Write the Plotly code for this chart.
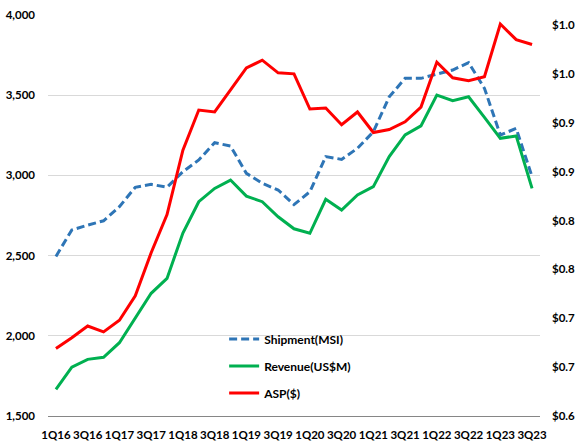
import plotly.graph_objects as go

quarters = ["1Q16","2Q16","3Q16","4Q16","1Q17","2Q17","3Q17","4Q17",
            "1Q18","2Q18","3Q18","4Q18","1Q19","2Q19","3Q19","4Q19",
            "1Q20","2Q20","3Q20","4Q20","1Q21","2Q21","3Q21","4Q21",
            "1Q22","2Q22","3Q22","4Q22","1Q23","2Q23","3Q23"]

shipment = [2495, 2660, 2690, 2717, 2805, 2926, 2944, 2926,
            3023, 3096, 3204, 3183, 3013, 2951, 2909, 2818,
            2898, 3117, 3100, 3169, 3272, 3490, 3605, 3605,
            3632, 3657, 3703, 3543, 3252, 3293, 2992]

revenue = [1666, 1804, 1853, 1866, 1957, 2109, 2265, 2358,
           2641, 2836, 2919, 2971, 2871, 2836, 2742, 2667,
           2639, 2851, 2784, 2878, 2930, 3117, 3252, 3309,
           3501, 3466, 3490, 3362, 3231, 3246, 2919]

asp = [0.669, 0.680, 0.692, 0.686, 0.698, 0.723, 0.767, 0.806,
       0.872, 0.913, 0.911, 0.934, 0.956, 0.964, 0.951, 0.950,
       0.914, 0.915, 0.898, 0.911, 0.890, 0.893, 0.901, 0.916,
       0.962, 0.946, 0.943, 0.947, 1.001, 0.985, 0.980]

left_ticks = [1500, 2000, 2500, 3000, 3500, 4000]
left_ticktext = ["1,500", "2,000", "2,500", "3,000", "3,500", "4,000"]
right_ticks = [0.60, 0.65, 0.70, 0.75, 0.80, 0.85, 0.90, 0.95, 1.00]
right_ticktext = ["$0.6", "$0.7", "$0.7", "$0.8", "$0.8", "$0.9", "$0.9", "$1.0", "$1.0"]

FONT = "Lato"
TICKFONT = dict(family=FONT, size=11.5, color="#000000", weight="bold")

fig = go.Figure()
fig.add_trace(go.Scatter(x=quarters, y=shipment, name="Shipment(MSI)", mode="lines",
                         line=dict(color="#2E75B6", width=3, dash="8px,4px"),
                         legendgroup="a", yaxis="y"))
fig.add_trace(go.Scatter(x=quarters, y=revenue, name="Revenue(US$M)", mode="lines",
                         line=dict(color="#00B050", width=3),
                         legendgroup="b", yaxis="y"))
fig.add_trace(go.Scatter(x=quarters, y=asp, name="ASP($)", mode="lines",
                         line=dict(color="#FF0000", width=3),
                         legendgroup="c", yaxis="y2"))

fig.update_layout(
    width=585, height=446,
    margin=dict(l=48, r=45, t=15, b=30, autoexpand=False),
    paper_bgcolor="white", plot_bgcolor="white",
    font=dict(family=FONT, size=12, color="#000000"),
    showlegend=True,
    legend=dict(x=0.358, y=0.228, xanchor="left", yanchor="top",
                bgcolor="rgba(0,0,0,0)", tracegroupgap=8,
                font=dict(family=FONT, size=12, color="#000000", weight="bold")),
    xaxis=dict(type="category", categoryorder="array", categoryarray=quarters,
               range=[-0.5, len(quarters) - 0.5], automargin=False,
               tickmode="array", tickvals=quarters[::2], ticktext=quarters[::2],
               tickangle=0, showgrid=False, zeroline=False,
               showline=True, linecolor="#868686", linewidth=1,
               ticks="", ticklabelstandoff=8, tickfont=TICKFONT),
    yaxis=dict(range=[1500, 4000], tickmode="array", tickvals=left_ticks,
               ticktext=left_ticktext, showgrid=True, gridcolor="#D9D9D9",
               gridwidth=1, zeroline=False, showline=False, ticks="",
               automargin=False, ticklabelstandoff=12, tickfont=TICKFONT),
    yaxis2=dict(range=[0.6, 1.0102], overlaying="y", side="right",
                tickmode="array", tickvals=right_ticks, ticktext=right_ticktext,
                showgrid=False, zeroline=False, showline=False, ticks="",
                automargin=False, ticklabelstandoff=11, tickfont=TICKFONT),
)

fig.write_html(
    "out.html",
    config={"displayModeBar": False},
    post_script="document.body.style.margin='0';document.body.style.overflow='hidden';",
)
